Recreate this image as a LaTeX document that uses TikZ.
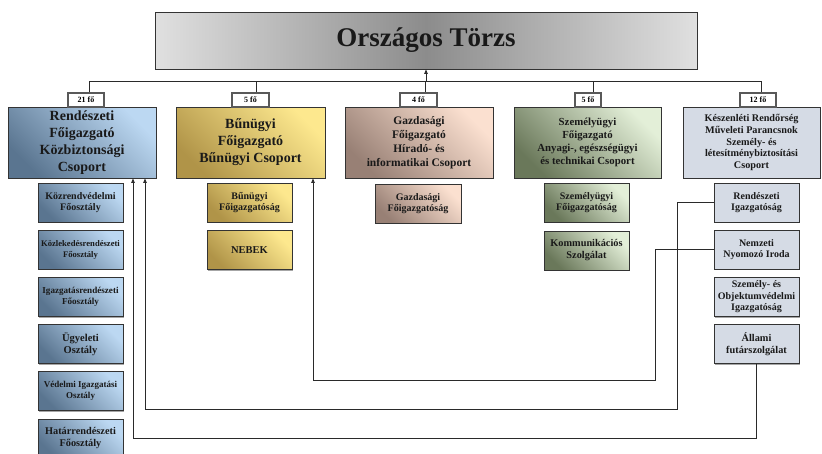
\documentclass[tikz,border=0pt]{standalone}
\usepackage{fontspec}
\setmainfont{Liberation Serif}
\usetikzlibrary{arrows.meta,shadows}
\definecolor{blueD}{HTML}{5A7590}
\definecolor{blueL}{HTML}{BCD8F2}
\definecolor{goldD}{HTML}{B09448}
\definecolor{goldL}{HTML}{FDE88E}
\definecolor{brownD}{HTML}{988075}
\definecolor{brownL}{HTML}{FBE0D0}
\definecolor{greenD}{HTML}{6A785A}
\definecolor{greenL}{HTML}{E3EFD8}
\definecolor{lav}{HTML}{D5DBE5}
\definecolor{grayL}{HTML}{E0E0E0}
\definecolor{grayD}{HTML}{8C8C8C}
\definecolor{linec}{HTML}{2A2A2A}
\tikzset{
  shad/.style={drop shadow={shadow xshift=1pt, shadow yshift=-1pt, fill=black, opacity=0.35}},
  box/.style={draw=black!80, line width=0.8pt, inner sep=1pt, align=center, text=black!90},
  bigbox/.style={box, shad, minimum height=71pt},
  subbox/.style={box, shad, minimum width=85pt, minimum height=39pt, font=\bfseries\fontsize{10}{11.5}\selectfont},
  lbl/.style={draw=black!65, line width=1.1pt, fill=white, minimum height=14pt, inner sep=0pt, font=\bfseries\fontsize{8}{9}\selectfont},
  blueS/.style={shading=axis, bottom color=blueD, top color=blueL, shading angle=-45},
  goldS/.style={shading=axis, bottom color=goldD, top color=goldL, shading angle=-45},
  brownS/.style={shading=axis, bottom color=brownD, top color=brownL, shading angle=-45},
  greenS/.style={shading=axis, bottom color=greenD, top color=greenL, shading angle=-45},
  lavS/.style={fill=lav},
  conn/.style={draw=linec, line width=0.8pt},
  arr/.style={conn, -{Triangle[length=4.5pt,width=3.5pt]}}
}
\begin{document}
\begin{tikzpicture}[x=1pt,y=-1pt]
\useasboundingbox (0,0) rectangle (822,453);

% top
\node[box, left color=grayL, right color=grayL, middle color=grayD, minimum width=542pt, minimum height=57pt, font=\bfseries\fontsize{27}{30}\selectfont] (top) at (426,40.5) {Országos Törzs};

% main boxes
\node[bigbox, blueS, minimum width=148pt, font=\bfseries\fontsize{14}{17}\selectfont] (b1) at (82,142.5) {Rendészeti\\Főigazgató\\Közbiztonsági\\Csoport};
\node[bigbox, goldS, minimum width=149pt, font=\bfseries\fontsize{14}{17}\selectfont] (b2) at (250.5,142.5) {Bűnügyi\\Főigazgató\\Bűnügyi Csoport};
\node[bigbox, brownS, minimum width=148pt, font=\bfseries\fontsize{11.5}{14}\selectfont] (b3) at (419,142.5) {Gazdasági\\Főigazgató\\Híradó- és\\informatikai Csoport};
\node[bigbox, greenS, minimum width=147pt, font=\bfseries\fontsize{10.8}{12.8}\selectfont] (b4) at (587.5,142.5) {Személyügyi\\Főigazgató\\Anyagi-, egészségügyi\\és technikai Csoport};
\node[bigbox, lavS, minimum width=137pt, font=\bfseries\fontsize{10.2}{11.7}\selectfont] (b5) at (751.5,142.5) {Készenléti Rendőrség\\Műveleti Parancsnok\\Személy- és\\létesítménybiztosítási\\Csoport};

% labels
\node[lbl, minimum width=36pt] (l1) at (86,100) {21 fő};
\node[lbl, minimum width=37pt] (l2) at (250.5,100) {5 fő};
\node[lbl, minimum width=37pt] (l3) at (418.5,100) {4 fő};
\node[lbl, minimum width=26pt] (l4) at (588,100) {5 fő};
\node[lbl, minimum width=36pt] (l5) at (758,100) {12 fő};

% sub boxes column 1
\node[subbox, blueS] (s11) at (80.5,202.5) {Közrendvédelmi\\Főosztály};
\node[subbox, blueS, font=\bfseries\fontsize{8.6}{11}\selectfont] (s12) at (80.5,249.5) {Közlekedésrendészeti\\Főosztály};
\node[subbox, blueS, font=\bfseries\fontsize{9.1}{11}\selectfont] (s13) at (80.5,297) {Igazgatásrendészeti\\Főosztály};
\node[subbox, blueS, font=\bfseries\fontsize{10.5}{12}\selectfont] (s14) at (80.5,344) {Ügyeleti\\Osztály};
\node[subbox, blueS, font=\bfseries\fontsize{9}{11}\selectfont] (s15) at (80.5,391) {Védelmi Igazgatási\\Osztály};
\node[subbox, blueS, font=\bfseries\fontsize{10.3}{12}\selectfont] (s16) at (80.5,438.5) {Határrendészeti\\Főosztály};

% column 2
\node[subbox, goldS] (s21) at (249.5,202.5) {Bűnügyi\\Főigazgatóság};
\node[subbox, goldS, font=\bfseries\fontsize{10.5}{12}\selectfont] (s22) at (249.5,250) {NEBEK};

% column 3
\node[subbox, brownS, minimum width=86pt] (s31) at (418,203.5) {Gazdasági\\Főigazgatóság};

% column 4
\node[subbox, greenS] (s41) at (586.5,202.5) {Személyügyi\\Főigazgatóság};
\node[subbox, greenS, font=\bfseries\fontsize{10.3}{12}\selectfont] (s42) at (586.5,250.5) {Kommunikációs\\Szolgálat};

% column 5
\node[subbox, lavS] (s51) at (756.5,202.5) {Rendészeti\\Igazgatóság};
\node[subbox, lavS] (s52) at (756.5,249.5) {Nemzeti\\Nyomozó Iroda};
\node[subbox, lavS, font=\bfseries\fontsize{10}{11.5}\selectfont] (s53) at (756.5,297) {Személy- és\\Objektumvédelmi\\Igazgatóság};
\node[subbox, lavS, font=\bfseries\fontsize{10.3}{12}\selectfont] (s54) at (756.5,344) {Állami\\futárszolgálat};

% bus
\coordinate (v1) at (89,81);
\coordinate (v2) at (256,81);
\coordinate (v3) at (425,81);
\coordinate (v4) at (593,81);
\coordinate (v5) at (761,81);
\coordinate (vt) at (426,81);
\draw[conn] (v1) -- (v5);
\draw[conn] (v1) -- (v1 |- l1.north);
\draw[conn] (v2) -- (v2 |- l2.north);
\draw[conn] (v3) -- (v3 |- l3.north);
\draw[conn] (v4) -- (v4 |- l4.north);
\draw[conn] (v5) -- (v5 |- l5.north);
\draw[arr] (vt) -- (top.south);

% cross connectors
\coordinate (k1) at (655,380);
\coordinate (e2) at (313,0);
\draw[arr] (s52.west) -| (k1) -| (e2 |- b2.south);

\coordinate (k2) at (677,409);
\coordinate (e1) at (145,0);
\draw[arr] (s51.west) -| (k2) -| (e1 |- b1.south);

\coordinate (k3) at (133,438);
\draw[arr] (s54.south) |- (k3) -- (k3 |- b1.south);
\end{tikzpicture}
\end{document}
